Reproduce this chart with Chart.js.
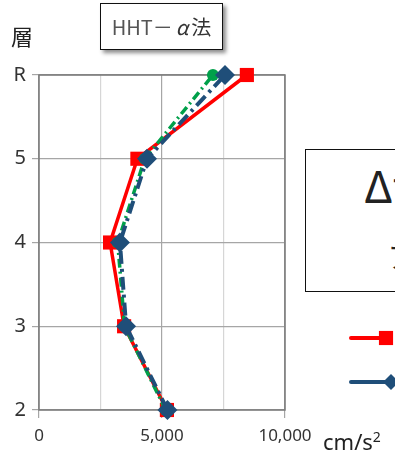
<!DOCTYPE html>
<html>
<head>
<meta charset="utf-8">
<script src="https://cdn.jsdelivr.net/npm/chart.js@4"></script>
<style>
  html, body { margin: 0; padding: 0; background: #fff; overflow: hidden; }
  #wrap { position: relative; width: 395px; height: 455px; font-family: "Noto Sans", "Noto Sans CJK JP", sans-serif; overflow: hidden; }
  canvas { position: absolute; left: 0; top: 0; }
  .lbl { position: absolute; white-space: nowrap; color: #222; }
  #title {
    position: absolute; left: 100px; top: 3px; width: 121px; height: 45px;
    border: 1.5px solid #111; background: #fff;
    box-shadow: 3px 3px 4px rgba(0,0,0,0.45);
    display: flex; align-items: center; justify-content: center;
    font-size: 20px; color: #555; font-family: "Noto Sans CJK JP", sans-serif;
  }
  #title i { font-style: italic; color: #333; margin: 0 3px; }
  #title b { font-weight: normal; color: #333; }
  #note {
    position: absolute; left: 305px; top: 149px; width: 140px; height: 141px;
    border: 1.5px solid #111; background: #fff;
    font-family: "Noto Sans CJK JP", sans-serif; color: #111;
  }
</style>
</head>
<body>
<div id="wrap">
  <canvas id="c" width="395" height="455"></canvas>
  <div id="title">HHT－<i>α</i><b>法</b></div>
  <div id="note">
    <div class="lbl" style="left:58px; top:6px; font-size:44px; line-height:56px;">Δt</div>
    <div class="lbl" style="left:82px; top:90px; font-size:28px; line-height:32px;">ア</div>
  </div>
  <div class="lbl" style="left:11px; top:19px; font-size:22px; font-family:'Noto Sans CJK JP';">層</div>
  <div class="lbl" style="left:323px; top:424px; font-size:22px; line-height:26px;">cm/s<sup style="font-size:14px;">2</sup></div>
</div>
<script>
// Floors (y positions), R shown as 6
const floors = [2, 3, 4, 5, 6];
const floorLabels = { 2: '2', 3: '3', 4: '4', 5: '5', 6: 'R' };
// Peak response acceleration per floor (cm/s2)
const seriesRed = [5200, 3460, 2890, 4000, 8450];
const seriesBlue = [5220, 3540, 3290, 4390, 7560];
const seriesGreen = [5150, 3480, 3200, 4300, 7070];

const toPoints = vals => vals.map((v, i) => ({ x: v, y: floors[i] }));

const frame = {
  id: 'frame',
  beforeDatasetsDraw(chart) {
    const { ctx, chartArea: a } = chart;
    ctx.save();
    ctx.strokeStyle = '#7a7a7a';
    ctx.lineWidth = 1.5;
    ctx.strokeRect(a.left, a.top, a.right - a.left, a.bottom - a.top);
    ctx.restore();
  }
};

// Legend samples drawn from the dataset styles
const legendSamples = {
  id: 'legendSamples',
  afterDraw(chart) {
    const { ctx } = chart;
    const rows = [
      { ds: chart.data.datasets[0], y: 338, end: 384, r: 10 },
      { ds: chart.data.datasets[2], y: 382, end: 386, r: 8 }
    ];
    ctx.save();
    rows.forEach(r => {
      ctx.strokeStyle = r.ds.borderColor;
      ctx.lineWidth = 4;
      ctx.lineCap = 'round';
      ctx.setLineDash([]);
      ctx.beginPath();
      ctx.moveTo(351, r.y);
      ctx.lineTo(r.end, r.y);
      ctx.stroke();
      ctx.fillStyle = r.ds.pointBackgroundColor;
      ctx.strokeStyle = r.ds.pointBackgroundColor;
      Chart.helpers.drawPoint(ctx, {
        pointStyle: r.ds.pointStyle,
        radius: r.r,
        borderWidth: 0,
        rotation: 0
      }, r.ds.pointStyle === 'rect' ? 386 : 391, r.y);
    });
    ctx.restore();
  }
};

new Chart(document.getElementById('c'), {
  type: 'scatter',
  data: {
    datasets: [
      {
        label: 'red',
        data: toPoints(seriesRed),
        showLine: true,
        clip: false,
        borderColor: '#ff0000',
        borderWidth: 3.5,
        pointStyle: 'rect',
        pointRadius: 10,
        pointBackgroundColor: '#ff0000',
        pointBorderWidth: 0,
        order: 3
      },
      {
        label: 'green',
        data: toPoints(seriesGreen),
        showLine: true,
        clip: false,
        borderColor: '#00a04a',
        borderWidth: 3.5,
        borderDash: [9, 4, 2, 4],
        pointStyle: 'circle',
        pointRadius: 6,
        pointBackgroundColor: '#00a04a',
        pointBorderWidth: 0,
        order: 2
      },
      {
        label: 'blue',
        data: toPoints(seriesBlue),
        showLine: true,
        clip: false,
        borderColor: '#1f4e79',
        borderWidth: 4,
        borderDash: [13, 5, 3, 5],
        pointStyle: 'rectRot',
        pointRadius: 10,
        pointBackgroundColor: '#1f4e79',
        pointBorderWidth: 0,
        order: 1
      }
    ]
  },
  options: {
    responsive: false,
    animation: false,
    events: [],
    layout: { padding: { left: 0, top: 75, right: 110, bottom: 0 } },
    plugins: { legend: { display: false }, tooltip: { enabled: false } },
    scales: {
      x: {
        type: 'linear', min: 0, max: 10000,
        afterFit(s) { s.height = 45; },
        border: { display: false },
        grid: {
          color: c => (c.tick && c.tick.value % 5000 === 0) ? '#a6a6a6' : '#d6d6d6',
          lineWidth: 1.2,
          tickLength: 8,
          tickColor: c => (c.tick && c.tick.value % 5000 === 0) ? '#a6a6a6' : 'rgba(0,0,0,0)'
        },
        ticks: {
          stepSize: 2500,
          maxRotation: 0,
          autoSkip: false,
          padding: 8,
          color: '#333',
          font: { size: 17, family: 'Noto Sans' },
          callback: v => v % 5000 === 0 ? v.toLocaleString('en-US') : ''
        }
      },
      y: {
        type: 'linear', min: 2, max: 6,
        afterFit(s) { s.width = 39; },
        border: { display: false },
        grid: { color: '#a6a6a6', lineWidth: 1.2, tickLength: 7 },
        ticks: {
          stepSize: 1,
          padding: 6,
          color: '#333',
          font: { size: 20, family: 'Noto Sans' },
          callback: v => floorLabels[v] || ''
        }
      }
    }
  },
  plugins: [frame, legendSamples]
});
</script>
</body>
</html>
